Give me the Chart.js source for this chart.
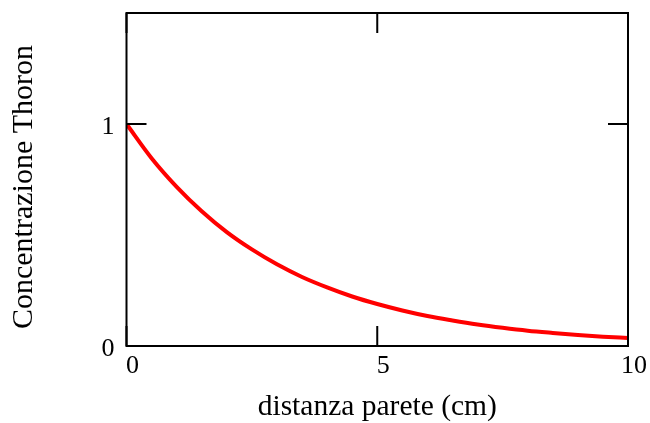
<!DOCTYPE html>
<html>
<head>
<meta charset="utf-8">
<script src="https://cdn.jsdelivr.net/npm/chart.js@4"></script>
<style>
  html, body { margin: 0; padding: 0; background: #fff; }
  #wrap { width: 650px; height: 423px; }
</style>
</head>
<body>
<div id="wrap"><canvas id="chart" width="650" height="423"></canvas></div>
<script>
// values
const distanza = [0, 0.5, 1, 1.5, 2, 2.5, 3, 3.5, 4, 4.5, 5, 5.5, 6, 6.5, 7, 7.5, 8, 8.5, 9, 9.5, 10];
const thoron = [1.00, 0.846, 0.717, 0.607, 0.513, 0.435, 0.368, 0.311, 0.264, 0.223, 0.189, 0.160, 0.135, 0.115, 0.097, 0.082, 0.069, 0.059, 0.050, 0.042, 0.036];
const xTicks = [0, 5, 10];
const yTicks = [0, 1];

const font = "'Liberation Serif', 'Times New Roman', serif";

// box around the plot with inward ticks on all four sides
const frame = {
  id: "frame",
  afterDraw(chart) {
    const ctx = chart.ctx;
    const a = chart.chartArea;
    const x = chart.scales.x, y = chart.scales.y;
    ctx.save();
    ctx.strokeStyle = "#000";
    ctx.lineWidth = 2;
    ctx.strokeRect(a.left, a.top, a.right - a.left, a.bottom - a.top);
    ctx.beginPath();
    xTicks.forEach(v => {
      const px = x.getPixelForValue(v);
      ctx.moveTo(px, a.bottom); ctx.lineTo(px, a.bottom - 20);
      ctx.moveTo(px, a.top); ctx.lineTo(px, a.top + 20);
    });
    yTicks.forEach(v => {
      const py = y.getPixelForValue(v);
      ctx.moveTo(a.left, py); ctx.lineTo(a.left + 20, py);
      ctx.moveTo(a.right, py); ctx.lineTo(a.right - 20, py);
    });
    ctx.stroke();
    ctx.restore();
  }
};

new Chart(document.getElementById("chart"), {
  type: "line",
  data: {
    datasets: [{
      data: distanza.map((d, i) => ({x: d, y: thoron[i]})),
      borderColor: "#ff0000",
      borderWidth: 4,
      pointRadius: 0,
      cubicInterpolationMode: "monotone",
      fill: false
    }]
  },
  options: {
    responsive: false,
    animation: false,
    layout: { padding: { top: 13, right: 22, left: 0, bottom: 0 } },
    plugins: { legend: { display: false }, tooltip: { enabled: false } },
    scales: {
      x: {
        type: "linear",
        min: 0, max: 10,
        afterBuildTicks: s => { s.ticks = xTicks.map(v => ({value: v})); },
        afterFit: s => { s.height = 77; s.paddingLeft = 0; s.paddingRight = 0; },
        grid: { display: false, drawTicks: false },
        border: { display: false },
        ticks: { color: "#000", font: { family: font, size: 26 }, padding: 5, labelOffset: 6, maxRotation: 0 },
        title: { display: true, text: "distanza parete (cm)", color: "#000", font: { family: font, size: 29.5 }, padding: { top: 8, bottom: -2 } }
      },
      y: {
        min: 0, max: 1.5,
        afterBuildTicks: s => { s.ticks = yTicks.map(v => ({value: v})); },
        afterFit: s => { s.width = 126.5; s.paddingTop = 0; s.paddingBottom = 0; },
        grid: { display: false, drawTicks: false },
        border: { display: false },
        ticks: { color: "#000", font: { family: font, size: 26 }, padding: 12, labelOffset: 3 },
        title: { display: true, text: "Concentrazione Thoron  ", color: "#000", font: { family: font, size: 30 }, padding: { top: 6, bottom: 0 } }
      }
    }
  },
  plugins: [frame]
});
</script>
</body>
</html>
